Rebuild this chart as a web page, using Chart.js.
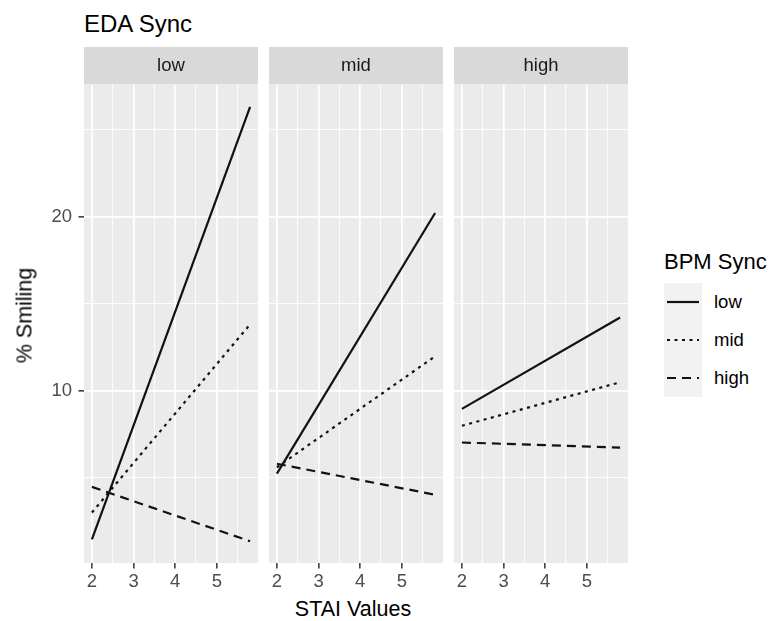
<!DOCTYPE html>
<html>
<head>
<meta charset="utf-8">
<script src="https://cdn.jsdelivr.net/npm/chart.js@4"></script>
<style>
  body { margin: 0; background: #fff; font-family: "Liberation Sans", Arial, sans-serif; }
  #page { position: relative; width: 782px; height: 621px; overflow: hidden; }
  canvas { position: absolute; top: 47px; }
  .txt { position: absolute; line-height: 1; white-space: nowrap; color: #000; }
  #legend { position: absolute; left: 664px; top: 283px; }
  .row { position: absolute; left: 50px; height: 38px; line-height: 38px; font-size: 18.5px; color: #000; }
</style>
</head>
<body>
<div id="page">
  <div class="txt" style="left:84px; top:11.5px; font-size:24px;">EDA Sync</div>
  <canvas id="p0" width="258" height="550" style="left:0px"></canvas>
  <canvas id="p1" width="174" height="550" style="left:269px"></canvas>
  <canvas id="p2" width="174" height="550" style="left:454px"></canvas>
  <div class="txt" style="left:253px; width:200px; text-align:center; top:599px; font-size:21.5px;">STAI Values</div>
  <div class="txt" style="left:-74.8px; top:304.5px; width:200px; height:21px; text-align:center; font-size:21.5px; transform:rotate(-90deg);">% Smiling</div>
  <div class="txt" style="left:664px; top:251.4px; font-size:22px;">BPM Sync</div>
  <div id="legend">
    <svg width="38" height="114" style="position:absolute; left:0; top:0">
      <rect x="0" y="0" width="38" height="114" fill="#f2f2f2"></rect>
      <line x1="3" y1="19" x2="35" y2="19" stroke="#111" stroke-width="2.2"></line>
      <line x1="3" y1="57" x2="35" y2="57" stroke="#111" stroke-width="2.2" stroke-dasharray="3 4.5"></line>
      <line x1="3" y1="95" x2="35" y2="95" stroke="#111" stroke-width="2.2" stroke-dasharray="9 6"></line>
    </svg>
    <div class="row" style="top:0px">low</div>
    <div class="row" style="top:38px">mid</div>
    <div class="row" style="top:76px">high</div>
  </div>
</div>
<script>
// facets = EDA Sync, line types = BPM Sync
const facets = ["low", "mid", "high"];
const bpmLevels = ["low", "mid", "high"];
const staiValues = [2, 5.8];

const edaLow_bpmLow = [1.45, 26.3];
const edaLow_bpmMid = [3.0, 13.8];
const edaLow_bpmHigh = [4.47, 1.35];

const edaMid_bpmLow = [5.23, 20.2];
const edaMid_bpmMid = [5.6, 11.97];
const edaMid_bpmHigh = [5.8, 4.02];

const edaHigh_bpmLow = [8.95, 14.2];
const edaHigh_bpmMid = [7.98, 10.48];
const edaHigh_bpmHigh = [7.02, 6.73];

const xTickLabels = [2, 3, 4, 5];
const yTickLabels = [10, 20];

const panelData = [
  [edaLow_bpmLow, edaLow_bpmMid, edaLow_bpmHigh],
  [edaMid_bpmLow, edaMid_bpmMid, edaMid_bpmHigh],
  [edaHigh_bpmLow, edaHigh_bpmMid, edaHigh_bpmHigh]
];

const dashes = [[], [3, 4.5], [9, 6]];
const fontFam = '"Liberation Sans", Arial, sans-serif';

const stripPlugin = {
  id: "strip",
  beforeDraw(chart, args, opts) {
    const a = chart.chartArea;
    const c = chart.ctx;
    c.save();
    c.fillStyle = "#d9d9d9";
    c.fillRect(a.left, 0, a.right - a.left, 37.5);
    c.fillStyle = "#ebebeb";
    c.fillRect(a.left, a.top, a.right - a.left, a.bottom - a.top);
    c.fillStyle = "#1a1a1a";
    c.font = "18.5px " + fontFam;
    c.textAlign = "center";
    c.textBaseline = "middle";
    c.fillText(opts.label, (a.left + a.right) / 2, 19);
    c.restore();
  }
};

function isMajor(v, list) {
  return list.indexOf(v) >= 0;
}

function criarPainel(idx) {
  const series = panelData[idx];
  const datasets = [];
  for (let i = 0; i < series.length; i++) {
    datasets.push({
      label: bpmLevels[i],
      data: staiValues.map((x, j) => ({ x: x, y: series[i][j] })),
      borderColor: "#111111",
      borderWidth: 2.2,
      borderDash: dashes[i],
      pointRadius: 0,
      fill: false,
      tension: 0
    });
  }
  const first = idx === 0;

  new Chart(document.getElementById("p" + idx), {
    type: "line",
    data: { datasets: datasets },
    plugins: [stripPlugin],
    options: {
      responsive: false,
      animation: false,
      layout: { padding: { top: 38, left: 0, right: 0, bottom: 0 } },
      plugins: {
        legend: { display: false },
        tooltip: { enabled: false },
        strip: { label: facets[idx] }
      },
      scales: {
        x: {
          type: "linear",
          min: 1.81,
          max: 5.99,
          afterBuildTicks: (s) => {
            s.ticks = [2, 2.5, 3, 3.5, 4, 4.5, 5, 5.5].map(v => ({ value: v }));
          },
          afterFit: (s) => { s.height = 34; },
          border: { display: false },
          grid: {
            color: "#ffffff",
            lineWidth: (c) => isMajor(c.tick.value, xTickLabels) ? 1.7 : 0.85,
            tickColor: (c) => isMajor(c.tick.value, xTickLabels) ? "#333333" : "rgba(0,0,0,0)",
            tickWidth: 1.5,
            tickLength: 5.5
          },
          ticks: {
            autoSkip: false,
            maxRotation: 0,
            padding: 2,
            color: "#4d4d4d",
            font: { size: 18.5, family: fontFam },
            callback: (v) => isMajor(v, xTickLabels) ? String(v) : ""
          }
        },
        y: {
          type: "linear",
          min: 0.1,
          max: 27.55,
          afterBuildTicks: (s) => {
            s.ticks = [5, 10, 15, 20, 25].map(v => ({ value: v }));
          },
          afterFit: (s) => { s.width = first ? 84 : 0; },
          border: { display: false },
          grid: {
            color: "#ffffff",
            lineWidth: (c) => isMajor(c.tick.value, yTickLabels) ? 1.7 : 0.85,
            tickColor: (c) => isMajor(c.tick.value, yTickLabels) ? "#333333" : "rgba(0,0,0,0)",
            tickWidth: 1.5,
            tickLength: 5.5,
            drawTicks: first
          },
          ticks: {
            display: first,
            autoSkip: false,
            padding: 6.5,
            color: "#4d4d4d",
            font: { size: 18.5, family: fontFam },
            callback: (v) => isMajor(v, yTickLabels) ? String(v) : ""
          }
        }
      }
    }
  });
}

for (let i = 0; i < facets.length; i++) {
  criarPainel(i);
}
</script>
</body>
</html>
